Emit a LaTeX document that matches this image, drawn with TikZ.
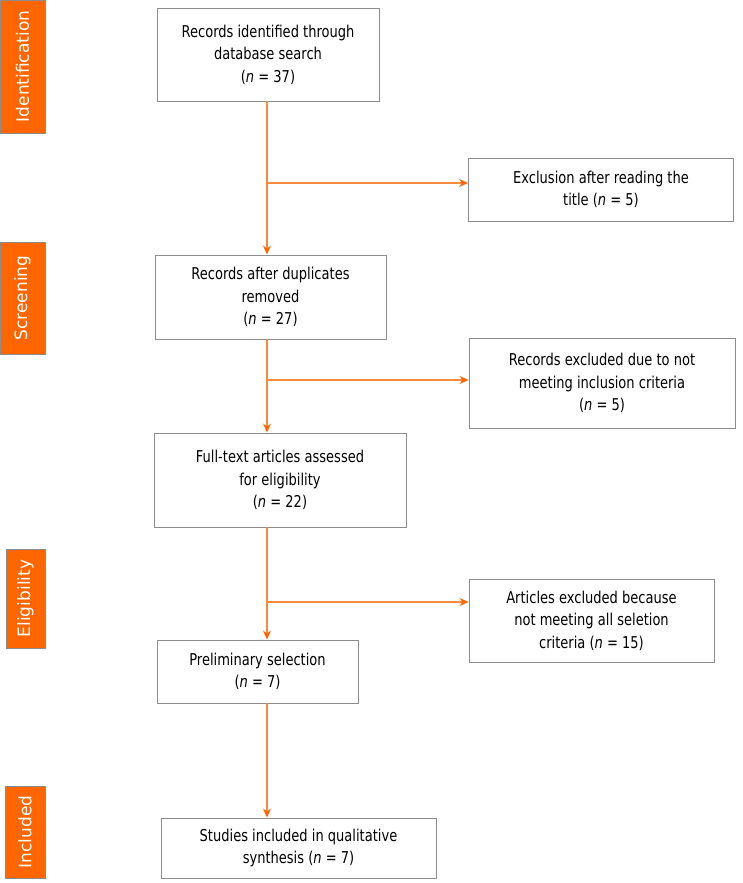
\documentclass[tikz,border=0pt]{standalone}
\usepackage{fontspec}
\setmainfont{DejaVu Sans}[FakeStretch=0.8]
\newfontfamily\stagefont{DejaVu Sans}
\usetikzlibrary{arrows.meta}
\definecolor{tagor}{HTML}{FF6600}
\definecolor{lineor}{HTML}{F68A40}
\definecolor{boxgray}{HTML}{8C8C8C}
\tikzset{
  stage/.style={draw=boxgray, line width=0.8pt, fill=tagor, text=white, rotate=90,
    inner sep=0pt, font=\stagefont\fontsize{17}{20}\selectfont},
  flowbox/.style={draw=boxgray, line width=0.9pt, fill=white, align=center, inner sep=0pt,
    font=\fontsize{16.3}{22.5}\selectfont},
  arr/.style={draw=lineor, line width=1.1pt, -{Stealth[length=9pt,width=8pt,fill=tagor,color=tagor]}},
}
\begin{document}
\begin{tikzpicture}[x=1pt,y=-1pt]
\useasboundingbox (0,0) rectangle (742,883);
% stage labels
\node[stage, minimum width=133, minimum height=45] (sid) at (22.5,66.5) {Identification};
\node[stage, minimum width=112, minimum height=45] (ssc) at (22.5,298) {Screening};
\node[stage, minimum width=99, minimum height=39] (sel) at (25.5,598.5) {Eligibility};
\node[stage, minimum width=92, minimum height=40] (sin) at (25,832) {Included};
% boxes
\node[flowbox, minimum width=222, minimum height=93] (b1) at (268,54.5) {Records identified through\\database search\\(\textit{n} = 37)};
\node[flowbox, minimum width=265, minimum height=63] (b2) at (601,189.5) {Exclusion after reading the\\title (\textit{n} = 5)};
\node[flowbox, minimum width=231, minimum height=84] (b3) at (270.5,297) {Records after duplicates\\removed\\(\textit{n} = 27)};
\node[flowbox, minimum width=266, minimum height=90] (b4) at (602,383) {Records excluded due to not\\meeting inclusion criteria\\(\textit{n} = 5)};
\node[flowbox, minimum width=252, minimum height=94] (b5) at (280,480) {Full-text articles assessed\\for eligibility\\(\textit{n} = 22)};
\node[flowbox, minimum width=245, minimum height=83] (b6) at (591.5,620.5) {Articles excluded because\\not meeting all seletion\\criteria (\textit{n} = 15)};
\node[flowbox, minimum width=201, minimum height=63] (b7) at (257.5,671.5) {Preliminary selection\\(\textit{n} = 7)};
\node[flowbox, minimum width=275, minimum height=60] (b8) at (298.5,848) {Studies included in qualitative\\synthesis (\textit{n} = 7)};
% spine
\coordinate (sp) at (267,0);
\coordinate (j1) at (267,183);
\coordinate (j2) at (267,380);
\coordinate (j3) at (267,602);
\draw[arr] (b1.south -| sp) -- (b3.north -| sp);
\draw[arr] (j1) -- (j1 -| b2.west);
\draw[arr] (b3.south -| sp) -- (b5.north -| sp);
\draw[arr] (j2) -- (j2 -| b4.west);
\draw[arr] (b5.south -| sp) -- (b7.north -| sp);
\draw[arr] (j3) -- (j3 -| b6.west);
\draw[arr] (b7.south -| sp) -- (b8.north -| sp);
\end{tikzpicture}
\end{document}
